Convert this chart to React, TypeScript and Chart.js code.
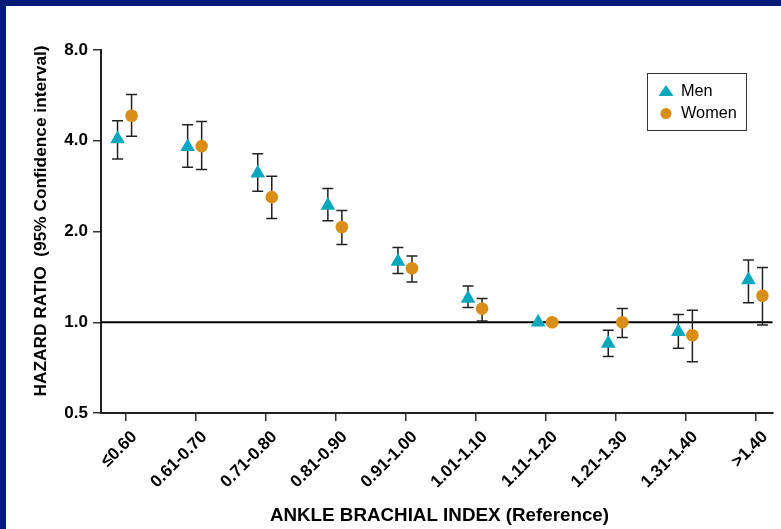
import { useEffect, useRef } from 'react';
import { Chart, registerables } from 'chart.js';

Chart.register(...registerables);

const categories = ['≤0.60', '0.61-0.70', '0.71-0.80', '0.81-0.90', '0.91-1.00', '1.01-1.10', '1.11-1.20', '1.21-1.30', '1.31-1.40', '>1.40'];
const menHR = [4.05, 3.82, 3.12, 2.44, 1.59, 1.2, 1.0, 0.85, 0.93, 1.38];
const menLower = [3.48, 3.27, 2.72, 2.17, 1.45, 1.12, 1.0, 0.77, 0.82, 1.16];
const menUpper = [4.66, 4.52, 3.62, 2.78, 1.77, 1.32, 1.0, 0.94, 1.06, 1.61];
const womenHR = [4.84, 3.84, 2.6, 2.07, 1.51, 1.11, 1.0, 1.0, 0.905, 1.225];
const womenLower = [4.14, 3.21, 2.21, 1.81, 1.36, 1.01, 1.0, 0.89, 0.74, 0.98];
const womenUpper = [5.69, 4.63, 3.05, 2.35, 1.66, 1.2, 1.0, 1.11, 1.095, 1.52];
const yTicks = [0.5, 1, 2, 4, 8];

const MEN_SHIFT = -0.11;
const WOMEN_SHIFT = 0.09;
const TEAL = '#0aa7bd';
const ORANGE = '#d98f17';
const NAVY = '#061a78';
const FONT = '"Liberation Sans", Arial, Helvetica, sans-serif';

export default function App() {
  const ref = useRef<HTMLCanvasElement | null>(null);

  useEffect(() => {
    const canvas = ref.current;
    if (!canvas) return;

    const decor = {
      id: 'decor',
      beforeDraw(chart: any) {
        const ctx = chart.ctx;
        ctx.save();
        ctx.fillStyle = '#ffffff';
        ctx.fillRect(0, 0, chart.width, chart.height);
        ctx.fillStyle = NAVY;
        ctx.fillRect(0, 0, chart.width, 6);
        ctx.fillRect(0, 0, 6, chart.height);
        ctx.restore();
      },
      beforeDatasetsDraw(chart: any) {
        const ctx = chart.ctx;
        const xs = chart.scales.x;
        const ys = chart.scales.y;
        const ca = chart.chartArea;
        ctx.save();
        const y1 = ys.getPixelForValue(1);
        ctx.strokeStyle = '#000';
        ctx.lineWidth = 2;
        ctx.beginPath();
        ctx.moveTo(ca.left, y1);
        ctx.lineTo(ca.right, y1);
        ctx.stroke();
        const drawBars = (lo: number[], hi: number[], shift: number) => {
          ctx.strokeStyle = '#222';
          ctx.lineWidth = 1.5;
          for (let i = 0; i < categories.length; i++) {
            if (lo[i] === hi[i]) continue;
            const x = xs.getPixelForValue(i + shift);
            const yl = ys.getPixelForValue(lo[i]);
            const yh = ys.getPixelForValue(hi[i]);
            ctx.beginPath();
            ctx.moveTo(x, yl);
            ctx.lineTo(x, yh);
            ctx.moveTo(x - 5.5, yl);
            ctx.lineTo(x + 5.5, yl);
            ctx.moveTo(x - 5.5, yh);
            ctx.lineTo(x + 5.5, yh);
            ctx.stroke();
          }
        };
        drawBars(menLower, menUpper, MEN_SHIFT);
        drawBars(womenLower, womenUpper, WOMEN_SHIFT);
        ctx.restore();
      },
      afterDraw(chart: any) {
        const ctx = chart.ctx;
        ctx.save();
        ctx.fillStyle = '#000';
        ctx.textAlign = 'center';
        ctx.textBaseline = 'middle';
        ctx.font = `bold 18.8px ${FONT}`;
        ctx.fillText('ANKLE BRACHIAL INDEX (Reference)', 439.5, 516);
        ctx.save();
        ctx.font = `bold 17.3px ${FONT}`;
        ctx.translate(41, 221);
        ctx.rotate(-Math.PI / 2);
        ctx.fillText('HAZARD RATIO  (95% Confidence interval)', 0, 0);
        ctx.restore();
        // legend
        ctx.strokeStyle = '#333';
        ctx.lineWidth = 1;
        ctx.strokeRect(647.5, 73.5, 99, 57);
        ctx.fillStyle = TEAL;
        ctx.beginPath();
        ctx.moveTo(666, 85);
        ctx.lineTo(673.5, 96);
        ctx.lineTo(658.5, 96);
        ctx.closePath();
        ctx.fill();
        ctx.fillStyle = ORANGE;
        ctx.beginPath();
        ctx.arc(666, 113.5, 5.5, 0, Math.PI * 2);
        ctx.fill();
        ctx.fillStyle = '#000';
        ctx.font = `16.3px ${FONT}`;
        ctx.textAlign = 'left';
        ctx.fillText('Men', 681, 92);
        ctx.fillText('Women', 681, 114);
        ctx.restore();
      },
    };

    const chart = new Chart(canvas, {
      type: 'scatter',
      data: {
        datasets: [
          {
            label: 'Men',
            data: menHR.map((v, i) => ({ x: i + MEN_SHIFT, y: v })),
            pointStyle: 'triangle',
            radius: 8.5,
            backgroundColor: TEAL,
            borderColor: TEAL,
            borderWidth: 0,
          },
          {
            label: 'Women',
            data: womenHR.map((v, i) => ({ x: i + WOMEN_SHIFT, y: v })),
            pointStyle: 'circle',
            radius: 6.3,
            backgroundColor: ORANGE,
            borderColor: ORANGE,
            borderWidth: 0,
          },
        ],
      },
      options: {
        responsive: false,
        animation: false,
        layout: { padding: { top: 50, right: 0, left: 0, bottom: 0 } },
        plugins: { legend: { display: false }, tooltip: { enabled: false } },
        scales: {
          x: {
            type: 'linear',
            min: -0.346,
            max: 9.233,
            afterBuildTicks: (axis: any) => {
              axis.ticks = categories.map((_, i) => ({ value: i }));
            },
            afterFit: (axis: any) => {
              axis.height = 116;
            },
            ticks: {
              autoSkip: false,
              maxRotation: 45,
              minRotation: 45,
              padding: 6,
              labelOffset: 9,
              color: '#000',
              font: { family: FONT, size: 17, weight: 'bold' },
              callback: (v: any) => categories[Math.round(Number(v))] ?? '',
            },
            grid: { drawOnChartArea: false, tickLength: 8, color: '#333', lineWidth: 1.5 },
            border: { display: true, color: '#222', width: 2 },
          },
          y: {
            type: 'logarithmic',
            min: 0.5,
            max: 8,
            afterBuildTicks: (axis: any) => {
              axis.ticks = yTicks.map((v) => ({ value: v }));
            },
            afterFit: (axis: any) => {
              axis.width = 101;
            },
            ticks: {
              color: '#000',
              padding: 5,
              font: { family: FONT, size: 17, weight: 'bold' },
              callback: (v: any) => Number(v).toFixed(1),
            },
            grid: { drawOnChartArea: false, tickLength: 8, color: '#333', lineWidth: 1.5 },
            border: { display: true, color: '#222', width: 2 },
          },
        },
      },
      plugins: [decor],
    } as any);

    return () => chart.destroy();
  }, []);

  return (
    <div style={{ position: 'absolute', left: 0, top: 0, width: 781, height: 529 }}>
      <canvas ref={ref} width={781} height={529} />
    </div>
  );
}
